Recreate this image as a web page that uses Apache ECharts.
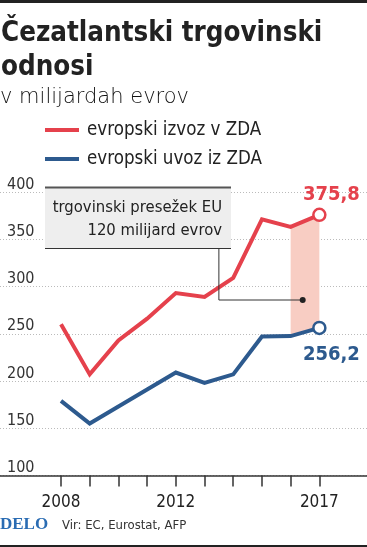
<!DOCTYPE html>
<html><head><meta charset="utf-8">
<script src="https://cdn.jsdelivr.net/npm/echarts@6/dist/echarts.min.js"></script>
<style>html,body{margin:0;padding:0;background:#fff}#c{width:367px;height:547px}</style>
</head><body><div id="c"></div>
<script>
// ---- data ----
const years = [2008, 2009, 2010, 2011, 2012, 2013, 2014, 2015, 2016, 2017];
const exportsEU = [260, 207, 243, 266, 293, 289, 309, 371, 363, 375.8];
const importsEU = [179, 155, 173, 191, 209, 198, 207, 247, 247.5, 256.2];
const yTicks = [100, 150, 200, 250, 300, 350, 400];
const xLabelYears = [2008, 2012, 2017];
const bandYears = [2016, 2017];
const seriesNames = ['evropski izvoz v ZDA', 'evropski uvoz iz ZDA'];
const annotationLines = ['trgovinski presežek EU', '120 milijard evrov'];
const leaderPath = [[2013.5, 340.4], [2013.5, 285.7], [2016.42, 285.7]];

const RED = '#e5414c', BLUE = '#2d5a8e', PINK = '#f8cdc3';
const FONT = "'DejaVu Sans Condensed', 'Liberation Sans Narrow', 'Roboto', sans-serif";
const fmt = v => String(v).replace('.', ',');

function lineData(vals, color, labelPos, labelOffset) {
  return years.map((y, i) => {
    if (i < years.length - 1) return [y, vals[i]];
    return {
      value: [y, vals[i]], symbol: 'circle', symbolSize: 12,
      itemStyle: { color: '#fff', borderColor: color, borderWidth: 2.5 },
      label: { show: true, position: labelPos, offset: labelOffset, formatter: fmt(vals[i]),
        color: color, fontSize: 20, fontWeight: 'bold', fontFamily: FONT }
    };
  });
}

const bandIdx = bandYears.map(y => years.indexOf(y));
// one band segment: [x0, x1, top0, top1, bottom0, bottom1]
const bandData = [];
for (let k = 0; k < bandIdx.length - 1; k++) {
  const a = bandIdx[k], b = bandIdx[k + 1];
  bandData.push([years[a], years[b], exportsEU[a], exportsEU[b], importsEU[a], importsEU[b]]);
}

const chart = echarts.init(document.getElementById('c'), null, { renderer: 'canvas' });
chart.setOption({
  animation: false,
  title: [
    { text: 'Čezatlantski trgovinski\nodnosi', left: 1, top: 17, padding: 0,
      textStyle: { fontSize: 27.5, fontWeight: 'bold', lineHeight: 34, fontFamily: FONT, color: '#222' } },
    { text: 'v milijardah evrov', left: 0, top: 86, padding: 0,
      textStyle: { fontSize: 21, fontWeight: 200, lineHeight: 24, fontFamily: "'DejaVu Sans', sans-serif", color: '#111' } }
  ],
  legend: {
    data: seriesNames, orient: 'vertical', left: 45, top: 119, padding: 0,
    itemWidth: 34, itemHeight: 4, itemGap: 7, icon: 'rect',
    textStyle: { fontSize: 18.6, fontFamily: FONT, color: '#222', lineHeight: 22, padding: [0, 0, 0, 3] }
  },
  grid: { left: 0, right: 0, top: 192, bottom: 71.5 },
  xAxis: {
    type: 'value', min: 2005.875, max: 2018.66,
    axisLine: { show: true, lineStyle: { color: '#333', width: 1.5 } },
    axisTick: { show: true, customValues: years, length: 11, lineStyle: { color: '#333', width: 1.5 } },
    axisLabel: { customValues: xLabelYears, formatter: v => String(v), margin: 19,
      fontSize: 17, fontFamily: FONT, color: '#222' },
    splitLine: { show: false }
  },
  yAxis: {
    type: 'value', min: yTicks[0], max: yTicks[yTicks.length - 1], interval: 50,
    axisLine: { show: false }, axisTick: { show: false },
    axisLabel: { inside: true, margin: 7, verticalAlign: 'bottom', fontSize: 16,
      fontFamily: FONT, color: '#333', lineHeight: 15 },
    splitLine: { show: true, lineStyle: { type: [1, 2], color: '#bbb', width: 1 } }
  },
  series: [
    { name: 'band', type: 'custom', silent: true, z: 1,
      data: bandData,
      encode: { x: [0, 1], y: [2, 3, 4, 5] },
      renderItem: (params, api) => {
        const p0 = api.coord([api.value(0), api.value(2)]);
        const p1 = api.coord([api.value(1), api.value(3)]);
        const p2 = api.coord([api.value(1), api.value(5)]);
        const p3 = api.coord([api.value(0), api.value(4)]);
        return { type: 'polygon', shape: { points: [p0, p1, p2, p3] }, style: { fill: PINK } };
      } },
    { name: 'leader', type: 'line', symbol: 'none', silent: true, z: 4,
      lineStyle: { color: '#333', width: 1 },
      data: leaderPath.map((p, i) => i < leaderPath.length - 1 ? p :
        { value: p, symbol: 'circle', symbolSize: 6, itemStyle: { color: '#222' } }) },
    { name: seriesNames[0], type: 'line', symbol: 'none', z: 3, color: RED,
      lineStyle: { color: RED, width: 4, join: 'miter' },
      data: lineData(exportsEU, RED, 'top', [12, 2]) },
    { name: seriesNames[1], type: 'line', symbol: 'none', z: 3, color: BLUE,
      lineStyle: { color: BLUE, width: 4, join: 'miter' },
      data: lineData(importsEU, BLUE, 'bottom', [12, 5]) }
  ],
  graphic: [
    { type: 'rect', shape: { x: 0, y: 0, width: 367, height: 3 }, style: { fill: '#222' }, z: 10 },
    { type: 'rect', shape: { x: 0, y: 545, width: 367, height: 2 }, style: { fill: '#222' }, z: 10 },
    { type: 'rect', shape: { x: 45, y: 187, width: 186, height: 61 }, style: { fill: '#eeeeee' }, z: 10 },
    { type: 'line', shape: { x1: 45, y1: 187.5, x2: 231, y2: 187.5 }, style: { stroke: '#555', lineWidth: 2 }, z: 11 },
    { type: 'line', shape: { x1: 45, y1: 248.5, x2: 231, y2: 248.5 }, style: { stroke: '#333', lineWidth: 1.2 }, z: 11 },
    { type: 'text', z: 11, style: { text: annotationLines.join('\n'), x: 222, y: 219, align: 'right',
      verticalAlign: 'middle', lineHeight: 23, fontSize: 16.5, fontFamily: FONT, fill: '#222' } },
    { type: 'text', z: 11, style: { text: 'DELO', x: 0, y: 525, verticalAlign: 'middle',
      fontSize: 17, fontWeight: 'bold', fontFamily: "'Liberation Serif', 'DejaVu Serif', serif", fill: '#2a6cb3' } },
    { type: 'text', z: 11, style: { text: 'Vir: EC, Eurostat, AFP', x: 62, y: 526, verticalAlign: 'middle',
      fontSize: 13, fontFamily: FONT, fill: '#333' } }
  ]
});
</script></body></html>
